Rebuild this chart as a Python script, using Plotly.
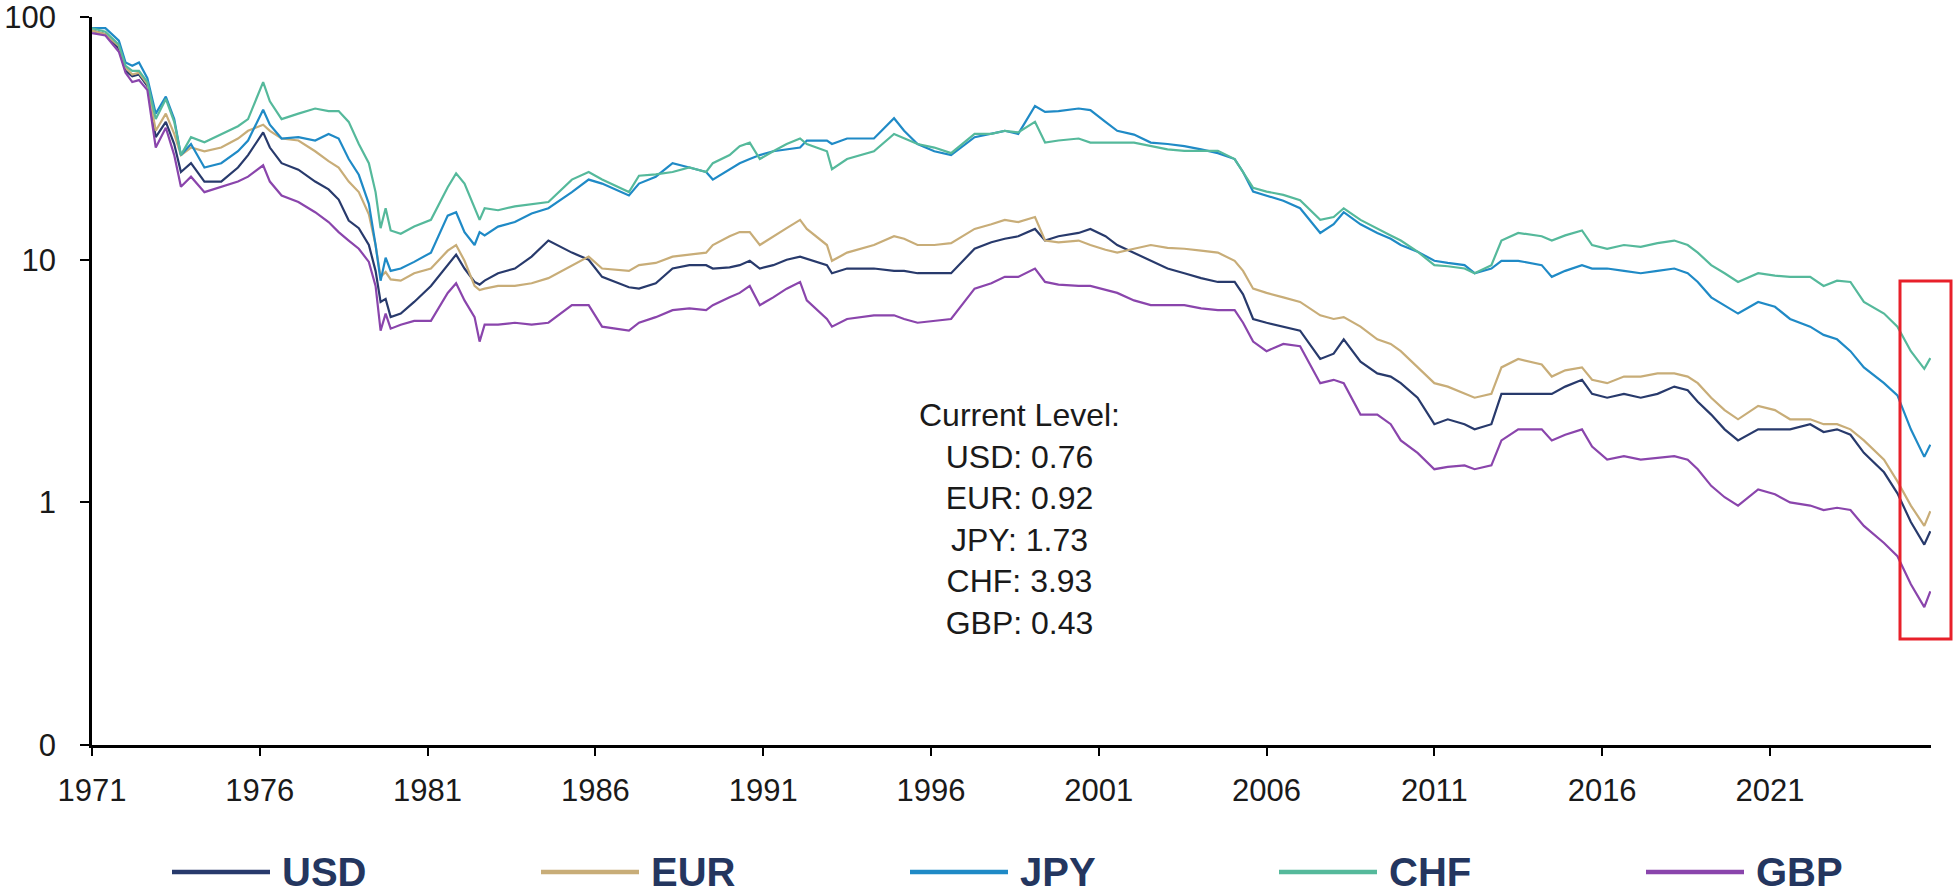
import plotly.graph_objects as go

years = [1971.0, 1971.4, 1971.8, 1972.0, 1972.2, 1972.4, 1972.65, 1972.9, 1973.2, 1973.45,
         1973.65, 1973.95, 1974.35, 1974.85, 1975.35, 1975.65, 1976.1, 1976.3, 1976.65, 1977.15,
         1977.65, 1978.05, 1978.35, 1978.65, 1978.95, 1979.25, 1979.45, 1979.6, 1979.75, 1979.9,
         1980.2, 1980.6, 1981.1, 1981.6, 1981.85, 1982.1, 1982.4, 1982.55, 1982.7, 1983.1,
         1983.6, 1984.1, 1984.6, 1985.3, 1985.8, 1986.2, 1987.0, 1987.3, 1987.8, 1988.3,
         1988.8, 1989.3, 1989.5, 1990.0, 1990.3, 1990.6, 1990.9, 1991.3, 1991.7, 1992.1,
         1992.3, 1992.9, 1993.05, 1993.5, 1994.3, 1994.9, 1995.2, 1995.6, 1996.1, 1996.6,
         1997.3, 1997.8, 1998.2, 1998.6, 1999.1, 1999.4, 1999.8, 2000.4, 2000.75, 2001.2,
         2001.55, 2002.05, 2002.55, 2003.05, 2003.55, 2004.05, 2004.55, 2005.05, 2005.3, 2005.6,
         2006.0, 2006.5, 2007.0, 2007.6, 2008.0, 2008.3, 2008.8, 2009.3, 2009.7, 2010.0,
         2010.5, 2011.0, 2011.4, 2011.9, 2012.2, 2012.7, 2013.0, 2013.5, 2014.2, 2014.5,
         2014.9, 2015.4, 2015.7, 2016.15, 2016.65, 2017.15, 2017.65, 2018.15, 2018.55, 2018.85,
         2019.25, 2019.65, 2020.05, 2020.65, 2021.15, 2021.6, 2022.2, 2022.6, 2023.0, 2023.4,
         2023.8, 2024.4, 2024.8, 2025.2, 2025.6, 2025.78]

usd = [88, 85, 74, 60, 57, 58, 52, 32, 37, 30,
       23, 25, 21, 21, 24, 27, 33.5, 29, 25, 23.5,
       21, 19.5, 17.7, 14.5, 13.5, 11.5, 9, 6.7, 6.9, 5.8,
       6.0, 6.7, 7.8, 9.5, 10.5, 9.2, 8.1, 7.9, 8.2, 8.8,
       9.2, 10.3, 12, 10.7, 10, 8.5, 7.7, 7.6, 8.0, 9.2,
       9.5, 9.5, 9.2, 9.3, 9.5, 9.9, 9.2, 9.5, 10.0, 10.3,
       10.1, 9.5, 8.8, 9.2, 9.2, 9.0, 9.0, 8.8, 8.8, 8.8,
       11.1, 11.8, 12.2, 12.5, 13.4, 12, 12.5, 12.9, 13.4, 12.5,
       11.5, 10.7, 9.9, 9.2, 8.8, 8.4, 8.1, 8.1, 7.2, 5.7,
       5.5, 5.3, 5.1, 3.9, 4.1, 4.7, 3.8, 3.4, 3.3, 3.1,
       2.7, 2.1, 2.2, 2.1, 2.0, 2.1, 2.8, 2.8, 2.8, 2.8,
       3.0, 3.2, 2.8, 2.7, 2.8, 2.7, 2.8, 3.0, 2.9, 2.6,
       2.3, 2.0, 1.8, 2.0, 2.0, 2.0, 2.1, 1.95, 2.0, 1.9,
       1.6, 1.33, 1.09, 0.83, 0.67, 0.76]

eur = [88, 85, 76, 62, 58, 59, 53, 34, 40, 33,
       27, 29, 28, 29, 31.6, 34, 36, 34, 31.6, 31,
       28, 25.5, 24, 21, 19, 15.4, 11.5, 8.5, 8.9, 8.3,
       8.2, 8.8, 9.2, 10.9, 11.5, 9.9, 7.8, 7.5, 7.6, 7.8,
       7.8, 8.0, 8.4, 9.5, 10.3, 9.2, 9.0, 9.5, 9.7, 10.3,
       10.5, 10.7, 11.5, 12.5, 13, 13, 11.5, 12.5, 13.5, 14.6,
       13.4, 11.5, 9.9, 10.7, 11.5, 12.5, 12.2, 11.5, 11.5, 11.7,
       13.4, 14, 14.6, 14.3, 15, 12, 11.8, 12, 11.5, 11.0,
       10.7, 11.1, 11.5, 11.2, 11.1, 10.9, 10.7, 9.9, 9.0, 7.6,
       7.3, 7.0, 6.7, 5.9, 5.7, 5.8, 5.3, 4.7, 4.5, 4.2,
       3.6, 3.1, 3.0, 2.8, 2.7, 2.8, 3.6, 3.9, 3.7, 3.3,
       3.5, 3.6, 3.2, 3.1, 3.3, 3.3, 3.4, 3.4, 3.3, 3.1,
       2.7, 2.4, 2.2, 2.5, 2.4, 2.2, 2.2, 2.1, 2.1, 2.0,
       1.8, 1.5, 1.22, 0.97, 0.8, 0.92]

jpy = [90, 90, 80, 65, 63, 65, 56, 40, 47, 38,
       27, 30, 24, 25, 28, 31, 41.5, 36, 31.6, 32,
       31, 33, 31.6, 26, 22.4, 17, 11.5, 8.2, 10.2, 9.0,
       9.2, 9.8, 10.7, 15.2, 15.7, 13, 11.5, 13, 12.6, 13.7,
       14.3, 15.5, 16.3, 19, 21.4, 20.6, 18.4, 20.6, 22, 25,
       24, 23, 21.4, 23.5, 25, 26, 27, 28, 28.5, 29,
       31, 31, 30, 31.6, 31.6, 38.3, 34, 30, 28, 27,
       32, 33, 34, 33, 43, 40.7, 41, 42, 41.4, 37,
       34, 32.8, 30.4, 30, 29.4, 28.5, 27.5, 26, 23, 19.1,
       18.4, 17.5, 16.3, 12.9, 14.0, 15.7, 14.0, 12.9, 12.2, 11.5,
       10.8, 9.9, 9.7, 9.5, 8.8, 9.2, 9.9, 9.9, 9.5, 8.5,
       9.0, 9.5, 9.2, 9.2, 9.0, 8.8, 9.0, 9.2, 8.8, 8.1,
       7.0, 6.5, 6.0, 6.7, 6.4, 5.7, 5.3, 4.9, 4.7, 4.2,
       3.6, 3.1, 2.76, 2.0, 1.54, 1.73]

chf = [90, 87, 77, 63, 60, 60, 54, 38, 46, 37,
       27, 32, 30.5, 33, 35.5, 38, 54, 45, 38, 40,
       42, 41, 41, 37, 30, 25, 19, 13.5, 16.3, 13.2,
       12.8, 13.7, 14.6, 19.9, 22.7, 20.6, 16.3, 14.6, 16.3, 16,
       16.6, 17, 17.3, 21.4, 23, 21.4, 19, 22.2, 22.5, 23,
       24, 23, 25, 27, 29.4, 30.4, 26, 28, 30, 31.6,
       30, 28, 23.6, 26, 28, 33, 31.6, 30, 29, 27.5,
       33, 33, 34, 33.5, 37, 30.4, 31, 31.6, 30.4, 30.5,
       30.4, 30.4, 29.4, 28.5, 28.1, 28.1, 28.1, 26, 23, 19.8,
       19.1, 18.5, 17.6, 14.6, 15.0, 16.3, 14.6, 13.4, 12.6, 12,
       10.8, 9.5, 9.4, 9.2, 8.8, 9.5, 12, 12.9, 12.5, 12,
       12.6, 13.2, 11.5, 11.1, 11.5, 11.3, 11.7, 12, 11.5, 10.7,
       9.5, 8.8, 8.1, 8.8, 8.6, 8.5, 8.5, 7.8, 8.2, 8.1,
       6.7, 6.0, 5.3, 4.2, 3.55, 3.93]

gbp = [86, 84, 72, 59, 54, 55, 50, 29, 35, 27,
       20, 22, 19, 20, 21, 22, 24.5, 21, 18.4, 17.3,
       15.7, 14.3, 13, 12, 11.1, 9.8, 7.8, 5.1, 6.0, 5.2,
       5.4, 5.6, 5.6, 7.3, 8.0, 6.8, 5.8, 4.6, 5.4, 5.4,
       5.5, 5.4, 5.5, 6.5, 6.5, 5.3, 5.1, 5.5, 5.8, 6.2,
       6.3, 6.2, 6.5, 7.0, 7.3, 7.8, 6.5, 7.0, 7.6, 8.1,
       6.8, 5.7, 5.3, 5.7, 5.9, 5.9, 5.7, 5.5, 5.6, 5.7,
       7.6, 8.0, 8.5, 8.5, 9.2, 8.1, 7.9, 7.8, 7.8, 7.5,
       7.3, 6.8, 6.5, 6.5, 6.5, 6.3, 6.2, 6.2, 5.5, 4.6,
       4.2, 4.5, 4.4, 3.1, 3.2, 3.1, 2.3, 2.3, 2.1, 1.8,
       1.6, 1.37, 1.4, 1.42, 1.37, 1.42, 1.8, 2.0, 2.0, 1.8,
       1.9, 2.0, 1.7, 1.5, 1.55, 1.5, 1.53, 1.55, 1.5, 1.37,
       1.17, 1.05, 0.97, 1.13, 1.08, 1.0, 0.97, 0.93, 0.95, 0.93,
       0.8, 0.68, 0.6, 0.46, 0.37, 0.43]

series_names = ["USD", "EUR", "JPY", "CHF", "GBP"]
series_values = [usd, eur, jpy, chf, gbp]
colors = ["#283a6c", "#c8ad78", "#1f8ac6", "#55b99b", "#8a45ac"]

current_levels = ["0.76", "0.92", "1.73", "3.93", "0.43"]

x_tick_years = [1971, 1976, 1981, 1986, 1991, 1996, 2001, 2006, 2011, 2016, 2021]
y_tick_vals = [0.1, 1, 10, 100]
y_tick_text = ["0", "1", "10", "100"]

fig = go.Figure()
for name, vals, col in zip(series_names, series_values, colors):
    fig.add_trace(go.Scatter(x=years, y=vals, mode="lines", name=name,
                             line=dict(color=col, width=2.2), showlegend=False))

W, H = 1954, 896
ml, mr, mt, mb = 92, 23, 17, 151
pw = W - ml - mr
ph = H - mt - mb


def px_to_paper_x(px):
    return (px - ml) / pw


def px_to_paper_y(py):
    return (H - mb - py) / ph


FONT = "Liberation Sans, Arial, sans-serif"

# custom legend (long line samples, bold labels)
legend_y = px_to_paper_y(872)
leg_line_x = [(172, 270), (541, 639), (910, 1008), (1279, 1377), (1646, 1744)]
shapes = []
annotations = []
for (a, b), name, col in zip(leg_line_x, series_names, colors):
    shapes.append(dict(type="line", xref="paper", yref="paper",
                       x0=px_to_paper_x(a), x1=px_to_paper_x(b), y0=legend_y, y1=legend_y,
                       line=dict(color=col, width=4.5)))
    annotations.append(dict(xref="paper", yref="paper", x=px_to_paper_x(b + 10), y=legend_y,
                            text="<b>%s</b>" % name, showarrow=False, xanchor="left", yanchor="middle",
                            font=dict(family=FONT, size=40, color="#24365f")))

# red highlight box
shapes.append(dict(type="rect", xref="paper", yref="paper",
                   x0=px_to_paper_x(1900), x1=px_to_paper_x(1951),
                   y0=px_to_paper_y(639), y1=px_to_paper_y(281),
                   line=dict(color="#e8202a", width=3), fillcolor="rgba(0,0,0,0)"))

txt = "Current Level:<br>" + "<br>".join("%s: %s" % (n, v) for n, v in zip(series_names, current_levels))
annotations.append(dict(xref="paper", yref="paper", x=px_to_paper_x(1020), y=px_to_paper_y(519),
                        text=txt, showarrow=False, xanchor="center", yanchor="middle", align="center",
                        font=dict(family=FONT, size=32, color="#1a1a1a")))

fig.update_layout(
    width=W, height=H,
    margin=dict(l=ml, r=mr, t=mt, b=mb, pad=0, autoexpand=False),
    paper_bgcolor="white", plot_bgcolor="white",
    font=dict(family=FONT, size=31, color="#1a1a1a"),
    shapes=shapes, annotations=annotations,
    xaxis=dict(range=[1971, 2025.8], tickvals=x_tick_years, ticktext=[str(y) for y in x_tick_years],
               showgrid=False, zeroline=False, showline=True, linecolor="black", linewidth=2.5,
               ticks="outside", ticklen=8, tickwidth=2, tickcolor="black", ticklabelstandoff=8,
               ticklabeloverflow="allow", automargin=False),
    yaxis=dict(type="log", range=[-1, 2.0005], tickvals=y_tick_vals, ticktext=y_tick_text,
               showgrid=False, zeroline=False, showline=True, linecolor="black", linewidth=2.5,
               ticks="outside", ticklen=9, tickwidth=2, tickcolor="black", ticklabelstandoff=18,
               ticklabeloverflow="allow", automargin=False),
)

fig.write_html("out.html",
               config={"displayModeBar": False},
               post_script="document.body.style.margin='0';document.body.style.padding='0';"
                           "document.body.style.overflow='hidden';")
